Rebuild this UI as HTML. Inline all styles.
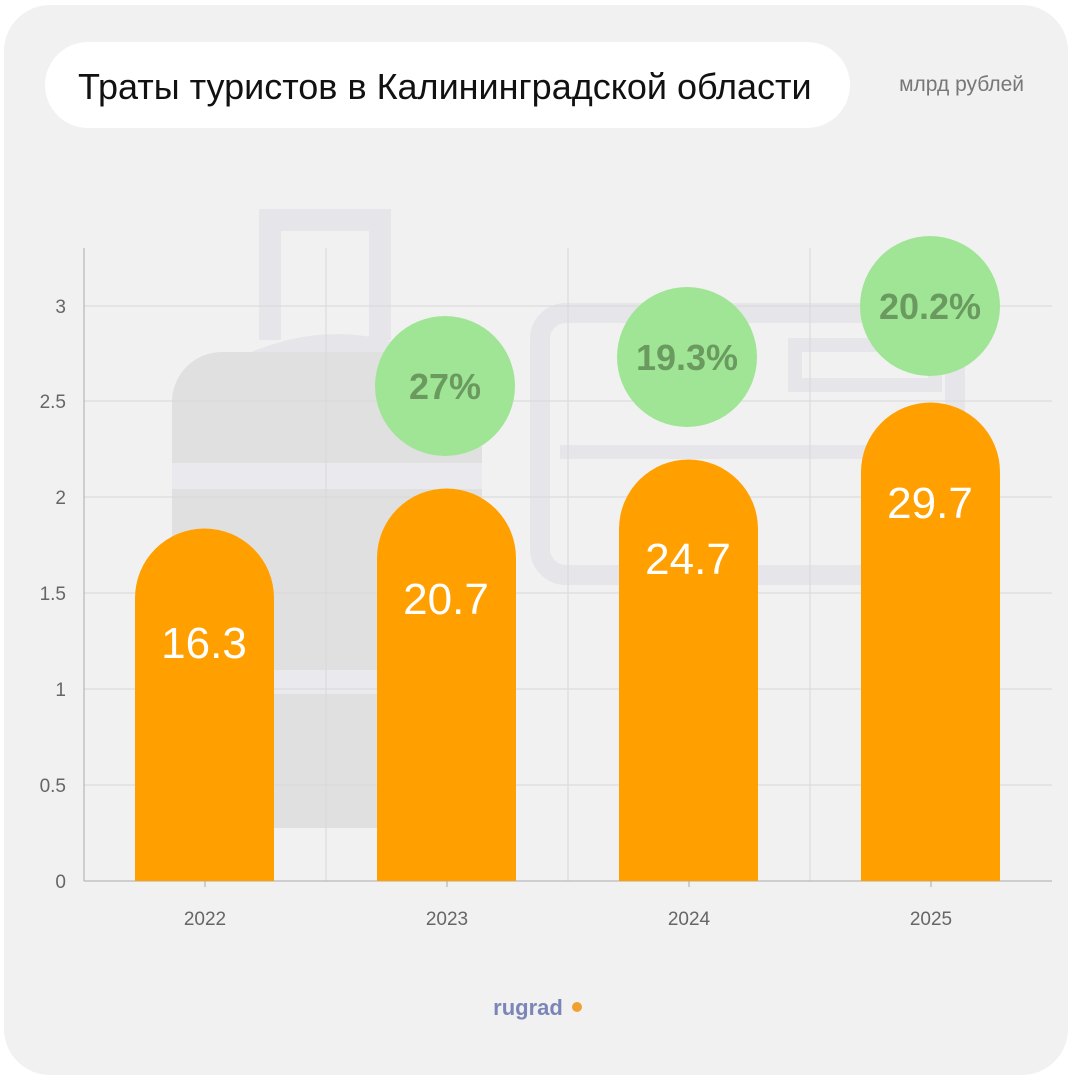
<!DOCTYPE html>
<html><head><meta charset="utf-8"><style>
body{margin:0;background:#fff;width:1075px;height:1083px;overflow:hidden;font-family:"Liberation Sans",sans-serif}
</style></head><body>
<svg width="1075" height="1083" xmlns="http://www.w3.org/2000/svg" font-family="Liberation Sans, sans-serif">
<rect x="4" y="5" width="1064" height="1070" rx="46" fill="#f1f1f1"/>
<!-- suitcase -->
<g fill="none" stroke="#e6e6ea" stroke-width="22">
<path d="M270 340 V220 H380 V340"/>
</g>
<path d="M230 362 Q330 310 430 355 Z" fill="#e6e6ea"/>
<rect x="172" y="352" width="310" height="476" rx="50" fill="#e0e0e0"/>
<rect x="172" y="463" width="310" height="26" fill="#eaeaee"/>
<rect x="172" y="670" width="310" height="24" fill="#eaeaee"/>
<!-- card -->
<rect x="540" y="313" width="415" height="262" rx="26" fill="none" stroke="#e6e6ea" stroke-width="20"/>
<rect x="560" y="445" width="330" height="14" fill="#e6e6ea"/>
<rect x="795" y="345" width="140" height="40" fill="none" stroke="#e6e6ea" stroke-width="14"/>
<!-- title -->
<rect x="45" y="42" width="805" height="86" rx="43" fill="#fff"/>
<text x="78" y="99" font-size="36" fill="#111">Траты туристов в Калининградской области</text>
<text x="1024" y="91" font-size="21" fill="#777" text-anchor="end">млрд рублей</text>
<!-- grid -->
<g stroke="#d8d8d8" stroke-width="1">
<line x1="84" x2="1052" y1="306" y2="306"/><line x1="84" x2="1052" y1="401" y2="401"/>
<line x1="84" x2="1052" y1="497" y2="497"/><line x1="84" x2="1052" y1="593" y2="593"/>
<line x1="84" x2="1052" y1="689" y2="689"/><line x1="84" x2="1052" y1="785" y2="785"/>
<line x1="326" x2="326" y1="248" y2="881"/><line x1="568" x2="568" y1="248" y2="881"/><line x1="810" x2="810" y1="248" y2="881"/>
</g>
<line x1="84" x2="84" y1="248" y2="881" stroke="#aaa"/>
<line x1="84" x2="1052" y1="881" y2="881" stroke="#aaa"/>
<g stroke="#aaa"><line x1="205" x2="205" y1="881" y2="887"/><line x1="447" x2="447" y1="881" y2="887"/><line x1="689" x2="689" y1="881" y2="887"/><line x1="931" x2="931" y1="881" y2="887"/></g>
<g font-size="19" fill="#666" text-anchor="end">
<text x="66" y="888">0</text><text x="66" y="792">0.5</text><text x="66" y="696">1</text><text x="66" y="600">1.5</text><text x="66" y="504">2</text><text x="66" y="408">2.5</text><text x="66" y="313">3</text>
</g>
<g font-size="19" fill="#666" text-anchor="middle">
<text x="205" y="925">2022</text><text x="447" y="925">2023</text><text x="689" y="925">2024</text><text x="931" y="925">2025</text>
</g>
<!-- bars -->
<g fill="#ff9f00">
<path d="M135 881 V598 A69.5 69.5 0 0 1 274 598 V881 Z"/>
<path d="M377 881 V558 A69.5 69.5 0 0 1 516 558 V881 Z"/>
<path d="M619 881 V529 A69.5 69.5 0 0 1 758 529 V881 Z"/>
<path d="M861 881 V472 A69.5 69.5 0 0 1 1000 472 V881 Z"/>
</g>
<g font-size="44" fill="#fff" text-anchor="middle">
<text x="204" y="658">16.3</text><text x="446" y="614">20.7</text><text x="688" y="574">24.7</text><text x="930" y="518">29.7</text>
</g>
<g fill="#a0e595">
<circle cx="445" cy="386" r="70"/><circle cx="687" cy="357" r="70"/><circle cx="930" cy="306" r="70"/>
</g>
<g font-size="36" font-weight="bold" fill="#6a9a5f" text-anchor="middle">
<text x="445" y="399">27%</text><text x="687" y="370">19.3%</text><text x="930" y="319">20.2%</text>
</g>
<text x="528" y="1015" font-size="22" font-weight="bold" fill="#7b86b8" text-anchor="middle">rugrad</text>
<circle cx="577" cy="1007" r="5" fill="#f0a030"/>
</svg>
</body></html>
